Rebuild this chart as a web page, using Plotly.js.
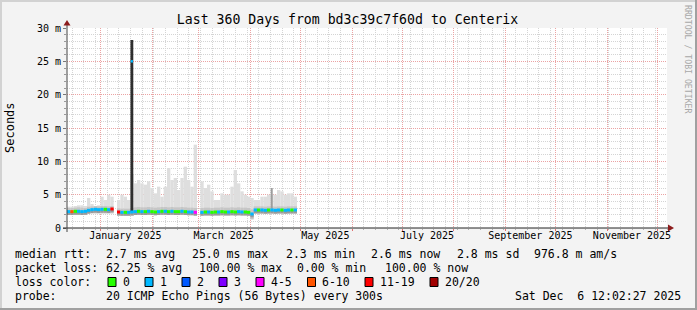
<!DOCTYPE html>
<html><head><meta charset="utf-8">
<script src="https://cdn.plot.ly/plotly-3.0.1.min.js"></script>
<style>html,body{margin:0;padding:0;background:#f3f3f3;}#chart{width:697px;height:310px;}</style>
</head><body><div id="chart"></div>
<script>
// ---- data (2-day RRD bins, centre dates) ----
const binDates = ['2024-12-13','2024-12-15','2024-12-17','2024-12-19','2024-12-21','2024-12-23','2024-12-25','2024-12-27','2024-12-29','2024-12-31',
'2025-01-02','2025-01-04','2025-01-06','2025-01-08','2025-01-10','2025-01-12','2025-01-14','2025-01-16','2025-01-18','2025-01-20',
'2025-01-22','2025-01-24','2025-01-26','2025-01-28','2025-01-30','2025-02-01','2025-02-03','2025-02-05','2025-02-07','2025-02-09',
'2025-02-11','2025-02-13','2025-02-15','2025-02-17','2025-02-19','2025-02-21','2025-02-23','2025-02-25','2025-02-27','2025-03-01',
'2025-03-03','2025-03-05','2025-03-07','2025-03-09','2025-03-11','2025-03-13','2025-03-15','2025-03-17','2025-03-19','2025-03-21',
'2025-03-23','2025-03-25','2025-03-27','2025-03-29','2025-03-31','2025-04-02','2025-04-04','2025-04-06','2025-04-08','2025-04-10',
'2025-04-12','2025-04-14','2025-04-16','2025-04-18','2025-04-20','2025-04-22','2025-04-24','2025-04-26','2025-04-28'];
const smokeHigh = [3.2,3.2,3.3,3.4,3.4,3.3,4.5,3.6,3.3,3.4, 4.7,4.2,5.0,4.7,null,4.2,5.0,4.7,4.2,8.0,
 6.7,7.2,6.7,6.5,7.0,6.0,5.2,6.2,4.7,6.2, 9.0,7.2,7.5,5.7,7.5,9.2,7.2,6.2,12.5,null,
 7.0,6.0,6.5,5.5,4.2,4.2,5.2,5.0,5.0,6.2, 8.7,6.7,5.5,5.0,4.7,4.5,4.2,4.2,4.7,4.7,
 5.0,5.0,5.0,5.7,5.5,5.0,5.2,5.2,4.7];
const smokeMid = [3.0,3.0,3.05,3.1,3.05,3.0,3.2,3.25,3.3,3.25, 3.3,3.3,3.25,3.3,null,2.95,2.9,2.9,2.9,3.0,
 3.1,3.15,3.1,3.1,3.15,3.1,3.05,3.1,3.15,3.15, 3.1,3.15,3.1,3.1,3.15,3.1,3.05,3.05,3.0,null,
 3.0,3.05,3.05,3.0,3.05,3.05,3.1,3.05,3.05,3.1, 3.05,3.1,3.05,3.05,3.0,2.8,3.25,3.25,3.25,3.2,
 3.25,3.25,3.2,3.25,3.25,3.2,3.25,3.25,3.25];
const smokeLow = [1.95,1.95,1.95,1.95,1.95,1.95,2.2,2.2,2.2,2.2, 2.2,2.2,2.2,2.2,null,1.8,1.8,1.8,1.8,1.8,
 1.95,1.95,1.95,1.95,1.95,1.95,1.95,1.95,1.95,1.95, 1.95,1.95,1.95,1.95,1.95,1.95,1.95,1.95,1.9,null,
 1.85,1.85,1.85,1.85,1.85,1.85,1.85,1.85,1.85,1.85, 1.85,1.85,1.85,1.85,1.85,1.3,2.15,2.15,2.15,2.15,
 2.15,2.15,2.15,2.15,2.15,2.15,2.15,2.15,2.15];
const medianRtt = [2.45,2.45,2.5,2.5,2.45,2.5,2.65,2.75,2.8,2.75, 2.8,2.8,2.75,2.85,null,2.4,2.35,2.35,2.35,2.4,
 2.45,2.5,2.45,2.45,2.5,2.45,2.4,2.45,2.5,2.5, 2.45,2.5,2.45,2.45,2.5,2.45,2.4,2.4,2.35,null,
 2.35,2.4,2.4,2.35,2.4,2.4,2.45,2.4,2.4,2.45, 2.4,2.45,2.4,2.4,2.35,2.1,2.7,2.7,2.7,2.65,
 2.7,2.7,2.65,2.7,2.7,2.65,2.7,2.7,2.7];
const lossClass = [1,5,0,1,1,1,1,1,1,1, 1,0,1,6,null,6,1,0,1,1,
 1,0,1,0,1,0,0,1,0,1, 0,1,0,0,1,0,1,1,4,null,
 1,0,1,0,0,1,0,0,1,0, 0,1,1,0,0,1,1,0,1,1,
 0,1,1,1,0,1,1,0,1];
const lossLabels = ['0','1','2','3','4-5','6-10','11-19','20/20'];
const lossColors = ['#26ff00','#00b8ff','#0059ff','#7e00ff','#ff00ff','#ff5500','#ff0000','#a10000'];
const spikeDates = ['2025-01-19 22:00'];
const spikeLow = [2.4];
const spikeHigh = [28.2];
const spikeMedian = [25.0];
const spikeLoss = [1];
const bumpDates = ['2025-04-13 20:00'];
const bumpLow = [2.9];
const bumpHigh = [6.0];
const monthLabelDates = ['2025-01-16','2025-03-16','2025-05-16','2025-07-16','2025-09-16','2025-11-16'];
const monthLabels = ['January 2025','March 2025','May 2025','July 2025','September 2025','November 2025'];
const yTickVals = [0,5,10,15,20,25,30];
const yTickText = ['0','5 m','10 m','15 m','20 m','25 m','30 m'];
const rttStats = ['2.7 ms avg','25.0 ms max','2.3 ms min','2.6 ms now','2.8 ms sd','976.8 m am/s'];
const lossStats = ['62.25 % avg','100.00 % max','0.00 % min','100.00 % now'];
const probeText = '20 ICMP Echo Pings (56 Bytes) every 300s';
const stampText = 'Sat Dec \u00a06 12:02:27 2025';
const titleText = 'Last 360 Days from bd3c39c7f60d to Centerix';

// ---- drawing ----
const DAY = 86400000;
const MONO = 'DejaVu Sans Mono';
const L = 67, T = 28, W = 600, H = 200;
const px = x => (x - L) / W;
const py = y => (T + H - y) / H;
const diff = (a, b) => a.map((v, i) => (v == null || b[i] == null) ? null : v - b[i]);

function barTrace(x, base, len, color, width) {
  return {type:'bar', x:x, base:base, y:len, width:width, marker:{color:color, line:{width:0}},
          hoverinfo:'skip', showlegend:false};
}
const traces = [];
traces.push(barTrace(binDates, smokeLow, diff(smokeHigh, smokeLow), '#dedede', 2*DAY));
traces.push(barTrace(binDates, smokeLow, diff(smokeMid, smokeLow), '#c6c6c6', 2*DAY));
traces.push(barTrace(binDates, medianRtt.map(v => v == null ? null : v - 0.5), medianRtt.map(v => v == null ? null : 0.5), '#9a9a9a', 2*DAY));
traces.push(barTrace(bumpDates, bumpLow, diff(bumpHigh, bumpLow), '#9c9c9c', 1.2*DAY));
traces.push(barTrace(spikeDates, spikeLow, diff(spikeHigh, spikeLow), '#2e2e2e', 1.7*DAY));
traces.push(barTrace(binDates, medianRtt.map(v => v == null ? null : v - 0.22), medianRtt.map(v => v == null ? null : 0.45),
  lossClass.map(c => c == null ? 'rgba(0,0,0,0)' : lossColors[c]), 2*DAY));
traces.push(barTrace(spikeDates, spikeMedian.map(v => v - 0.18), spikeMedian.map(() => 0.36), spikeLoss.map(c => lossColors[c]), 1.3*DAY));
traces.push({type:'scatter', x:[monthLabelDates[0]], y:[null], xaxis:'x2', yaxis:'y', showlegend:false, hoverinfo:'skip', mode:'markers'});

const shapes = [];
function rectPx(x0, y0, x1, y1, fill, lineColor) {
  shapes.push({type:'rect', xref:'paper', yref:'paper', x0:px(x0), x1:px(x1), y0:py(y1), y1:py(y0),
    fillcolor:fill, line:{width:lineColor ? 1 : 0, color:lineColor || fill}, layer:'above'});
}
function linePx(x0, y0, x1, y1, color) {
  shapes.push({type:'line', xref:'paper', yref:'paper', x0:px(x0), x1:px(x1), y0:py(y0), y1:py(y1),
    line:{color:color, width:1}, layer:'above'});
}
function pathPx(pts, color) {
  const d = pts.map((p, i) => (i ? 'L' : 'M') + px(p[0]) + ',' + py(p[1])).join(' ') + ' Z';
  shapes.push({type:'path', xref:'paper', yref:'paper', path:d, fillcolor:color, line:{width:0}, layer:'above'});
}
// axes with arrows
linePx(63, 228, 669, 228, '#222222');
linePx(67, 232, 67, 25, '#444444');
pathPx([[668,224.5],[674,228],[668,231.5]], '#8c1c1c');
pathPx([[63.5,25.5],[70.5,25.5],[67,20]], '#8c1c1c');
// frame
rectPx(0, 0, 697, 2, '#d2d2d2');
rectPx(0, 0, 2, 310, '#d2d2d2');
rectPx(695, 0, 697, 310, '#a0a0a0');
rectPx(0, 308, 697, 310, '#a0a0a0');

const annotations = [];
function textPx(x, y, text, anchor, size, color, angle) {
  annotations.push({xref:'paper', yref:'paper', x:px(x), y:py(y), text:text, showarrow:false,
    xanchor:anchor || 'left', yanchor:'middle', textangle:angle || 0, borderpad:0, borderwidth:0,
    font:{family:MONO, size:size || 11.5, color:color || '#000000'}});
}
// legend
const rttX = [106, 192, 286, 371, 457, 534];
const lossX = [106, 199, 297, 385];
const boxX = [108, 145, 182, 219, 256, 307.5, 365, 430];
textPx(15, 254, 'median rtt:');
rttStats.forEach((t, i) => textPx(rttX[i], 254, t));
textPx(15, 268, 'packet loss:');
lossStats.forEach((t, i) => textPx(lossX[i], 268, t));
textPx(15, 282, 'loss color:');
lossLabels.forEach((t, i) => {
  rectPx(boxX[i], 277.5, boxX[i] + 8, 286.5, lossColors[i], '#000000');
  textPx(boxX[i] + 14.5, 282, t);
});
textPx(15, 296, 'probe:');
textPx(106, 296, probeText);
textPx(681, 296, stampText, 'right');
// y title and watermark
textPx(10, 128, 'Seconds', 'center', 12, '#000000', -90);
textPx(688, 59, 'RRDTOOL / TOBI OETIKER', 'center', 8.2, '#a8a8a8', 90);

const range = ['2024-12-12', '2025-12-07'];
const layout = {
  width:697, height:310,
  margin:{l:L, r:697 - L - W, t:T, b:310 - T - H, pad:0},
  paper_bgcolor:'#f3f3f3', plot_bgcolor:'#ffffff',
  showlegend:false, barmode:'overlay',
  title:{text:titleText, font:{family:MONO, size:13.2, color:'#000000'}, xref:'container', yref:'container',
         x:0.4986, y:1 - 19/310, xanchor:'center', yanchor:'middle'},
  xaxis:{type:'date', range:range, tick0:'2024-12-01', dtick:'M1', showticklabels:false,
    showgrid:true, gridcolor:'#eba3a3', griddash:'1px,1px', gridwidth:1,
    ticks:'outside', ticklen:2, tickcolor:'#e07070', zeroline:false, showline:false, fixedrange:true,
    minor:{tick0:'2024-12-15', dtick:7*DAY, showgrid:true, gridcolor:'#d4d4d4', griddash:'1px,1px', gridwidth:1,
      ticks:'outside', ticklen:1, tickcolor:'#b0b0b0'}},
  xaxis2:{type:'date', range:range, overlaying:'x', anchor:'y', side:'bottom', tickmode:'array',
    tickvals:monthLabelDates, ticktext:monthLabels, showgrid:false, ticks:'', showline:false, zeroline:false,
    tickfont:{family:MONO, size:10, color:'#000000'}, fixedrange:true},
  yaxis:{range:[0,30], tickmode:'array', tickvals:yTickVals, ticktext:yTickText,
    showgrid:true, gridcolor:'#eba3a3', griddash:'1px,1px', gridwidth:1,
    ticks:'outside', ticklen:3, tickcolor:'#777777', zeroline:false, showline:false, fixedrange:true,
    tickfont:{family:MONO, size:10, color:'#000000'},
    minor:{dtick:1, showgrid:true, gridcolor:'#d4d4d4', griddash:'1px,1px', gridwidth:1,
      ticks:'outside', ticklen:2, tickcolor:'#999999'}},
  shapes:shapes, annotations:annotations
};
Plotly.newPlot('chart', traces, layout, {staticPlot:true, displayModeBar:false});
</script></body></html>
